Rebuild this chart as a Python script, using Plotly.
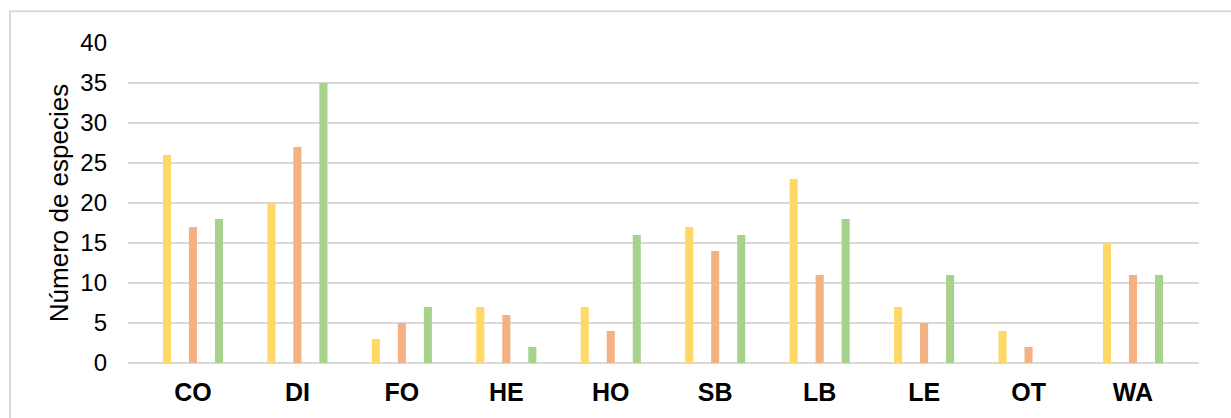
import plotly.graph_objects as go

categories = ["CO", "DI", "FO", "HE", "HO", "SB", "LB", "LE", "OT", "WA"]
serie_1 = [26, 20, 3, 7, 7, 17, 23, 7, 4, 15]
serie_2 = [17, 27, 5, 6, 4, 14, 11, 5, 2, 11]
serie_3 = [18, 35, 7, 2, 16, 16, 18, 11, 0, 11]
y_ticks = [0, 5, 10, 15, 20, 25, 30, 35, 40]

colors = ["#FFD966", "#F4B183", "#A9D18E"]
names = ["Serie 1", "Serie 2", "Serie 3"]

fig = go.Figure()
for name, vals, col in zip(names, [serie_1, serie_2, serie_3], colors):
    fig.add_trace(go.Bar(x=categories, y=vals, name=name, marker=dict(color=col, line=dict(width=0))))

W, H = 1231, 418
L, R, T, B = 128, 32, 43, 53
pw, ph = W - L - R, H - T - B

fig.update_layout(
    width=W, height=H,
    margin=dict(l=L, r=R, t=T, b=B),
    paper_bgcolor="white", plot_bgcolor="white",
    barmode="group", bargap=0.253, bargroupgap=0.69,
    showlegend=False,
    font=dict(family="Liberation Sans, Arial, sans-serif", color="#000000"),
    xaxis=dict(
        range=[-0.622, 9.632], showgrid=False, showline=False, zeroline=False,
        tickfont=dict(size=25, family="Liberation Sans, Arial, sans-serif", weight="bold"),
        ticklabelstandoff=12,
    ),
    yaxis=dict(
        range=[0, 40], tickvals=y_ticks, showgrid=True, gridcolor="#D9D9D9", gridwidth=2,
        zeroline=True, zerolinecolor="#D9D9D9", zerolinewidth=2, showline=False,
        tickfont=dict(size=24), ticklabelstandoff=20,
        title=dict(text="Número de especies", font=dict(size=26), standoff=4),
    ),
)

# outer chart border
fig.add_shape(type="rect", xref="paper", yref="paper",
              x0=(10 - L) / pw, x1=(W + 20 - L) / pw,
              y0=(H - B - (H + 20)) / ph, y1=(H - B - 11) / ph,
              line=dict(color="#D9D9D9", width=2), fillcolor="rgba(0,0,0,0)", layer="below")

fig.write_html("out.html", config={"displayModeBar": False},
               post_script="document.body.style.margin='0px';document.body.style.overflow='hidden';")
